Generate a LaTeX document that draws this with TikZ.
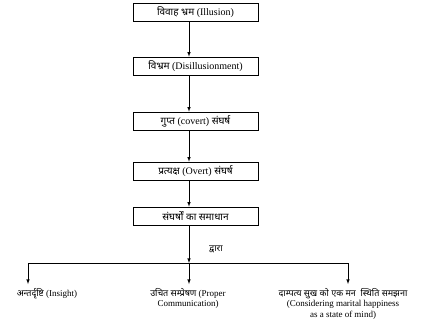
\documentclass[tikz,border=0pt]{standalone}
\usepackage{fontspec}
\setmainfont{Liberation Serif}
\newfontfamily\hindi[Script=Devanagari]{Noto Sans}
\usetikzlibrary{positioning}
\usetikzlibrary{arrows}

\begin{document}
\begin{tikzpicture}[x=1pt,y=-1pt,>=latex,line width=0.6pt,
stage/.style={draw,minimum width=125pt,minimum height=18pt,inner sep=1pt,font=\fontsize{10}{11}\selectfont},
outcome/.style={align=center,inner xsep=0pt,inner ysep=4pt,anchor=north,font=\fontsize{9}{10.5}\selectfont}]

\useasboundingbox (0,0) rectangle (424,330);
\coordinate (ax) at (189,0);

\node [stage] (illusion) at (195.5,12) {{\hindi विवाह भ्रम} (Illusion)};
\node [stage] (disillusion) at (195.5,66) {{\hindi विभ्रम} (Disillusionment)};
\node [stage] (covert) at (195.5,121) {{\hindi गुप्त} (covert) {\hindi संघर्ष}};
\node [stage] (overt) at (195.5,171) {{\hindi प्रत्यक्ष} (Overt) {\hindi संघर्ष}};
\node [stage] (resolve) at (195.5,216) {{\hindi संघर्षों का समाधान}};
\node [font=\fontsize{9}{10.5}\selectfont] (via) at (216,249) {\hindi द्वारा};

\draw [->] (illusion.south -| ax) -- (disillusion.north -| ax);
\draw [->] (disillusion.south -| ax) -- (covert.north -| ax);
\draw [->] (covert.south -| ax) -- (overt.north -| ax);
\draw [->] (overt.south -| ax) -- (resolve.north -| ax);

% branch line
\coordinate (bl) at (28,263);
\coordinate (bm) at (189,263);
\coordinate (br) at (348,263);
\draw [->] (resolve.south -| ax) -- (bm);
\draw (bl) -- (br);

\node [outcome] (insight) at (47,284) {{\hindi अन्तर्दृष्टि} (Insight)};
\node [outcome] (communication) at (188,284) {{\hindi उचित सम्प्रेषण} (Proper\\Communication)};
\node [outcome] (happiness) at (343,284) {{\hindi दाम्पत्य सुख को एक मन\ \ स्थिति समझना}\\(Considering marital happiness\\as a state of mind)};

\draw [->] (bl) -- (insight.north -| bl);
\draw [->] (bm) -- (communication.north -| bm);
\draw [->] (br) -- (happiness.north -| br);
\end{tikzpicture}
\end{document}
